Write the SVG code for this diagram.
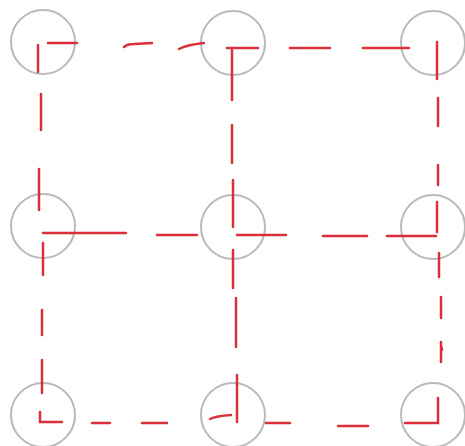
<svg xmlns="http://www.w3.org/2000/svg" width="465" height="446" viewBox="0 0 465 446">
<style>
.node circle{fill:none;stroke:#b5baba;stroke-width:2}
.edges line,.edges path{stroke:#d9303c;stroke-width:2.5;stroke-linecap:round;fill:none}
</style>
<rect width="465" height="446" fill="#ffffff"/>
<g id="n00" class="node"><circle cx="43" cy="42" r="32"/></g>
<g id="n01" class="node"><circle cx="233" cy="43" r="32"/></g>
<g id="n02" class="node"><circle cx="433" cy="43" r="32"/></g>
<g id="n10" class="node"><circle cx="43" cy="226" r="32"/></g>
<g id="n11" class="node"><circle cx="233" cy="227" r="32"/></g>
<g id="n12" class="node"><circle cx="433" cy="227" r="32"/></g>
<g id="n20" class="node"><circle cx="43" cy="415" r="32"/></g>
<g id="n21" class="node"><circle cx="233" cy="415" r="32"/></g>
<g id="n22" class="node"><circle cx="433" cy="415" r="32"/></g>
<g id="connectors" class="edges">
<!-- top row -->
<line x1="48" y1="43" x2="77" y2="43"/>
<path d="M124 47 Q127 44 134 44 L152 43"/>
<path d="M179 49 Q186 45 204 43"/>
<line x1="227" y1="48" x2="258" y2="48"/>
<line x1="290" y1="48" x2="330" y2="48"/>
<line x1="363" y1="48" x2="409" y2="48"/>
<!-- left column -->
<line x1="38" y1="45" x2="38" y2="72"/>
<line x1="41" y1="94" x2="41" y2="130"/>
<line x1="39" y1="169" x2="39" y2="210"/>
<line x1="43" y1="243" x2="43" y2="275"/>
<line x1="42" y1="310" x2="42" y2="335"/>
<line x1="42" y1="360" x2="42" y2="393"/>
<path d="M40 412 L40 422 L62 422"/>
<!-- middle column -->
<line x1="232" y1="50" x2="232" y2="100"/>
<line x1="232" y1="125" x2="232" y2="163"/>
<line x1="233" y1="180" x2="233" y2="227"/>
<line x1="233" y1="250" x2="233" y2="288"/>
<line x1="236" y1="298" x2="236" y2="347"/>
<line x1="237" y1="375" x2="237" y2="422"/>
<path d="M210 419 Q216 416 231 415"/>
<!-- right column -->
<line x1="437" y1="42" x2="437" y2="79"/>
<line x1="438" y1="98" x2="438" y2="126"/>
<line x1="438" y1="165" x2="438" y2="185"/>
<line x1="437" y1="202" x2="437" y2="232"/>
<line x1="439" y1="253" x2="439" y2="277"/>
<line x1="441" y1="297" x2="441" y2="318"/>
<path d="M441 342 L441 362 M441 345 L442 350"/>
<path d="M438 398 L438 423 L405 423"/>
<!-- middle row -->
<line x1="43" y1="233" x2="126" y2="233"/>
<line x1="157" y1="235" x2="197" y2="235"/>
<line x1="237" y1="235" x2="286" y2="235"/>
<line x1="323" y1="236" x2="367" y2="236"/>
<line x1="387" y1="236" x2="436" y2="236"/>
<!-- bottom row -->
<line x1="92" y1="423" x2="110" y2="423"/>
<line x1="142" y1="423" x2="167" y2="423"/>
<line x1="266" y1="423" x2="290" y2="423"/>
<line x1="338" y1="426" x2="368" y2="426"/>
</g>
</svg>
